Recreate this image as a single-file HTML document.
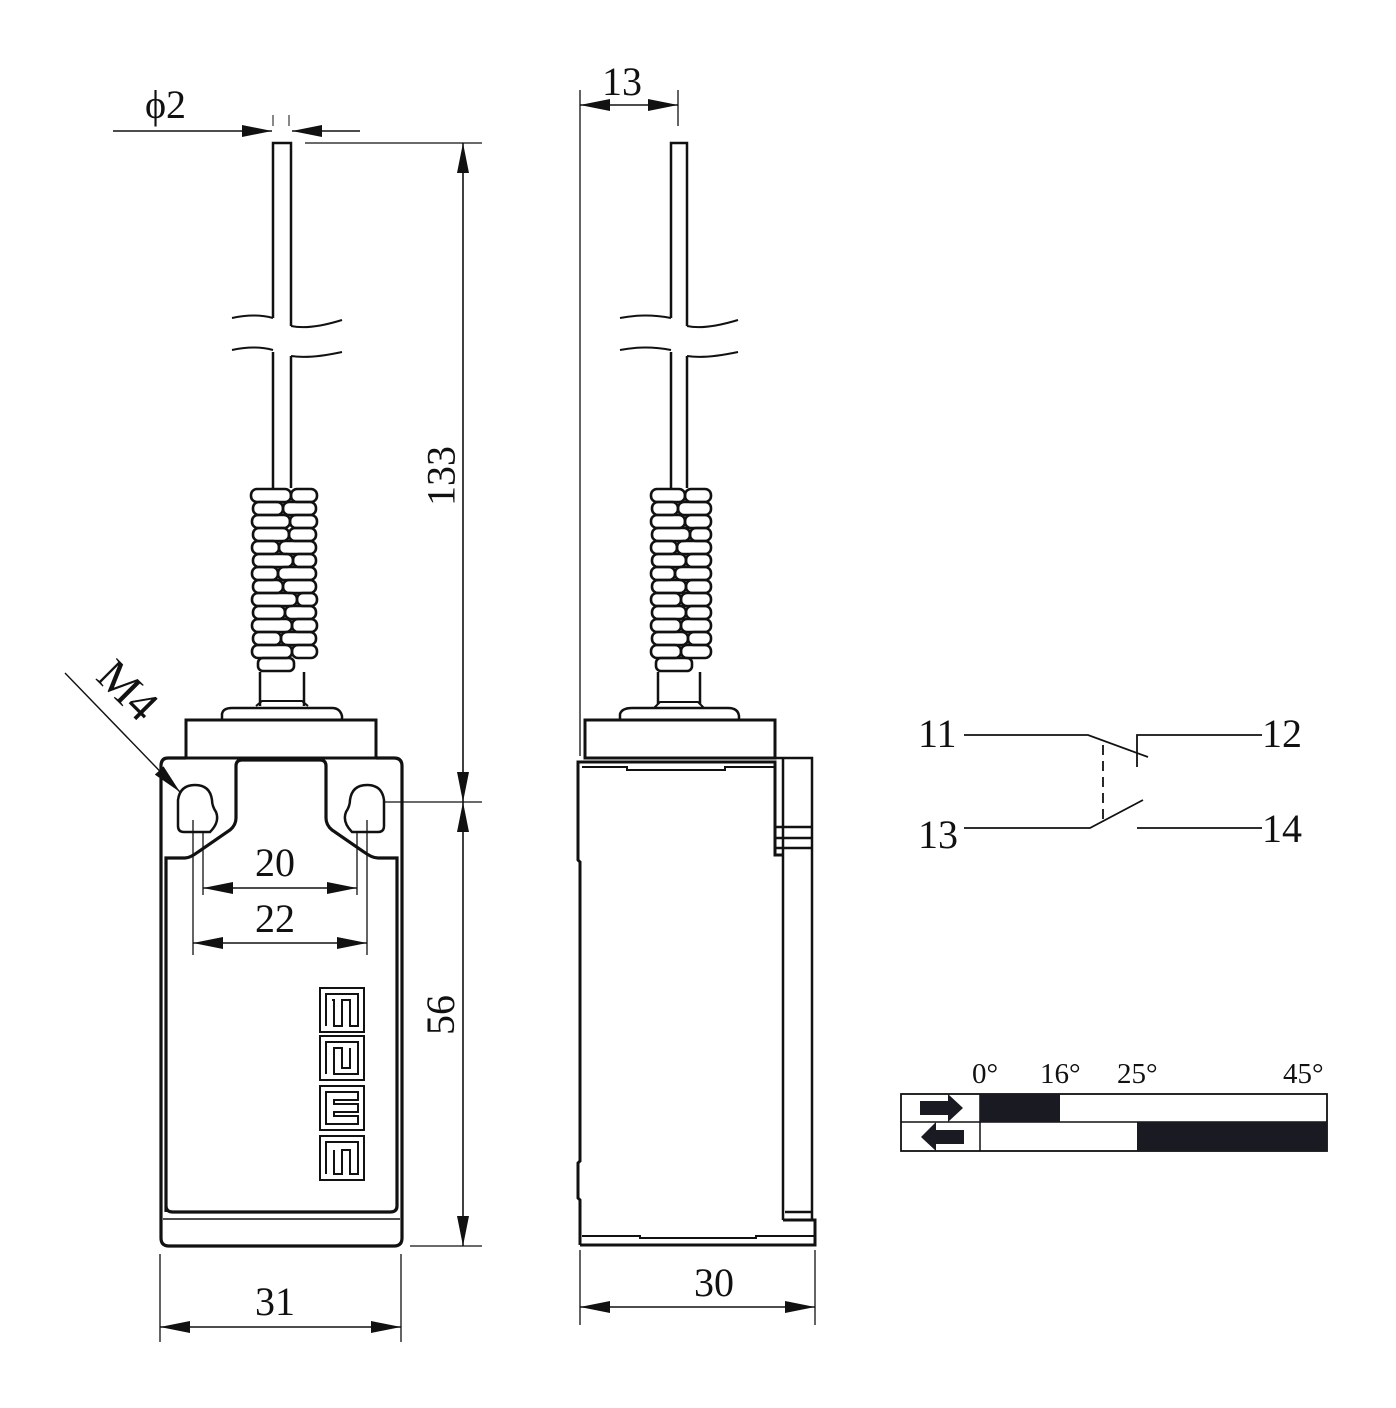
<!DOCTYPE html>
<html><head><meta charset="utf-8"><style>
html,body{margin:0;padding:0;background:#fff;}
svg{display:block;}
text{font-family:"Liberation Serif",serif;fill:#111;}
</style></head><body>
<svg width="1396" height="1408" viewBox="0 0 1396 1408" xmlns="http://www.w3.org/2000/svg">
<defs>
<marker id="b" viewBox="0 0 30 12" refX="30" refY="6" markerWidth="30" markerHeight="12" markerUnits="userSpaceOnUse" orient="auto-start-reverse"><path d="M0,0 L30,6 L0,12 Z" fill="#111"/></marker>
</defs>
<g fill="none" stroke="#111" stroke-width="1.6">
<line x1="113" y1="131" x2="272" y2="131" marker-end="url(#b)"/>
<line x1="360" y1="131" x2="292" y2="131" marker-end="url(#b)"/>
<line x1="273" y1="115" x2="273" y2="126" stroke-width="1"/>
<line x1="289" y1="115" x2="289" y2="126" stroke-width="1"/>
<path d="M273,318 V143 H291 V326" stroke-width="2.5"/>
<path d="M273,352 V488 M291,356 V488" stroke-width="2.5"/>
<path d="M232,318 Q255,313 273,318 M291,326 Q310,330 342,320" stroke-width="2"/>
<path d="M232,350 Q255,345 273,350 M291,356 Q310,359 342,352" stroke-width="2"/>
<g stroke-width="2.6">
<rect x="251" y="489" width="40" height="13" rx="6"/><rect x="291" y="489" width="26" height="13" rx="6"/>
<rect x="253" y="502" width="30" height="13" rx="6"/><rect x="283" y="502" width="33" height="13" rx="6"/>
<rect x="252" y="515" width="38" height="13" rx="6"/><rect x="290" y="515" width="27" height="13" rx="6"/>
<rect x="253" y="528" width="36" height="13" rx="6"/><rect x="289" y="528" width="27" height="13" rx="6"/>
<rect x="252" y="541" width="27" height="13" rx="6"/><rect x="279" y="541" width="37" height="13" rx="6"/>
<rect x="253" y="554" width="40" height="13" rx="6"/><rect x="293" y="554" width="23" height="13" rx="6"/>
<rect x="252" y="567" width="26" height="13" rx="6"/><rect x="278" y="567" width="38" height="13" rx="6"/>
<rect x="253" y="580" width="30" height="13" rx="6"/><rect x="283" y="580" width="33" height="13" rx="6"/>
<rect x="252" y="593" width="45" height="13" rx="6"/><rect x="297" y="593" width="20" height="13" rx="6"/>
<rect x="253" y="606" width="32" height="13" rx="6"/><rect x="285" y="606" width="31" height="13" rx="6"/>
<rect x="252" y="619" width="40" height="13" rx="6"/><rect x="292" y="619" width="25" height="13" rx="6"/>
<rect x="253" y="632" width="28" height="13" rx="6"/><rect x="281" y="632" width="35" height="13" rx="6"/>
<rect x="252" y="645" width="40" height="13" rx="6"/><rect x="292" y="645" width="25" height="13" rx="6"/>
<rect x="258" y="658" width="36" height="13" rx="5"/>
</g>
<path d="M260,672 V706 M304,672 V706" stroke-width="2.5"/>
<path d="M256,706 L262,701 H302 L308,706" stroke-width="2"/>
<path d="M222,720 V714 Q223,708 232,708 H332 Q340,708 342,716 V720" stroke-width="2.5"/>
<rect x="186" y="720" width="190" height="38" stroke-width="3"/>
<path d="M186,758 H168 Q161,758 161,766 V1238 Q161,1246 169,1246 H394 Q402,1246 402,1238 V766 Q402,758 394,758 H376" stroke-width="3.2"/>
<path d="M166,1212 V858 H185 Q190,858 198,852 L230,830 Q236,825 236,818 V766 Q236,760 242,760 H320 Q326,760 326,766 V818 Q326,825 332,830 L364,852 Q372,858 378,858 H397 V1206 Q397,1212 390,1212 H173 Q166,1212 166,1206" stroke-width="3.2"/>
<line x1="163" y1="1219" x2="400" y2="1219" stroke-width="1.5"/>
<path d="M178,800 Q180,785 195,785 Q210,785 212,800 Q212,806 216,812 Q220,822 210,832 H184 Q178,832 178,826 Z" stroke-width="2.5"/>
<path d="M384,800 Q382,785 367,785 Q352,785 350,800 Q350,806 346,812 Q342,822 352,832 H378 Q384,832 384,826 Z" stroke-width="2.5"/>
<path d="M193,820 V955 M203,832 V895 M357,832 V895 M367,820 V955" stroke-width="1.3"/>
<line x1="384" y1="802" x2="482" y2="802" stroke-width="1.3"/>
<line x1="203" y1="888" x2="357" y2="888" marker-start="url(#b)" marker-end="url(#b)"/>
<line x1="193" y1="943" x2="367" y2="943" marker-start="url(#b)" marker-end="url(#b)"/>
<g stroke-width="2">
<rect x="320" y="988" width="44" height="44"/><rect x="320" y="1036" width="44" height="44"/><rect x="320" y="1086" width="44" height="44"/><rect x="320" y="1136" width="44" height="44"/>
<path d="M326,1026 V994 H358 V1026 H350 V1000 H342 V1026 H334 V1000 H332"/>
<path d="M326,1074 V1042 H358 V1074 H334 V1048 H342 V1068 H350 V1048"/>
<path d="M326,1124 V1092 H358 V1100 H334 V1104 H358 V1112 H334 V1116 H358 V1124 Z"/>
<path d="M326,1174 V1142 H358 V1174 H350 V1150 H342 V1174 H334 V1150"/>
</g>
<line x1="65" y1="673" x2="180" y2="792" stroke-width="1.4" marker-end="url(#b)"/>
<line x1="305" y1="143" x2="482" y2="143" stroke-width="1.3"/>
<line x1="463" y1="143" x2="463" y2="802" marker-start="url(#b)" marker-end="url(#b)"/>
<line x1="463" y1="802" x2="463" y2="1246" marker-start="url(#b)" marker-end="url(#b)"/>
<line x1="410" y1="1246" x2="482" y2="1246" stroke-width="1.3"/>
<path d="M160,1254 V1342 M401,1254 V1342" stroke-width="1.3"/>
<line x1="160" y1="1327" x2="401" y2="1327" marker-start="url(#b)" marker-end="url(#b)"/>

<path d="M580,90 V756 M678,90 V126" stroke-width="1.3"/>
<line x1="580" y1="105" x2="678" y2="105" marker-start="url(#b)" marker-end="url(#b)"/>
<path d="M671,318 V143 H687 V326" stroke-width="2.5"/>
<path d="M671,352 V488 M687,356 V488" stroke-width="2.5"/>
<path d="M620,318 Q645,313 671,318 M687,326 Q705,330 738,320" stroke-width="2"/>
<path d="M620,350 Q645,345 671,350 M687,356 Q705,359 738,352" stroke-width="2"/>
<g stroke-width="2.6">
<rect x="651" y="489" width="34" height="13" rx="6"/><rect x="685" y="489" width="26" height="13" rx="6"/>
<rect x="652" y="502" width="26" height="13" rx="6"/><rect x="678" y="502" width="33" height="13" rx="6"/>
<rect x="651" y="515" width="34" height="13" rx="6"/><rect x="685" y="515" width="26" height="13" rx="6"/>
<rect x="652" y="528" width="38" height="13" rx="6"/><rect x="690" y="528" width="21" height="13" rx="6"/>
<rect x="651" y="541" width="26" height="13" rx="6"/><rect x="677" y="541" width="34" height="13" rx="6"/>
<rect x="652" y="554" width="34" height="13" rx="6"/><rect x="686" y="554" width="25" height="13" rx="6"/>
<rect x="651" y="567" width="24" height="13" rx="6"/><rect x="675" y="567" width="36" height="13" rx="6"/>
<rect x="652" y="580" width="34" height="13" rx="6"/><rect x="686" y="580" width="25" height="13" rx="6"/>
<rect x="651" y="593" width="30" height="13" rx="6"/><rect x="681" y="593" width="30" height="13" rx="6"/>
<rect x="652" y="606" width="34" height="13" rx="6"/><rect x="686" y="606" width="25" height="13" rx="6"/>
<rect x="651" y="619" width="30" height="13" rx="6"/><rect x="681" y="619" width="30" height="13" rx="6"/>
<rect x="652" y="632" width="36" height="13" rx="6"/><rect x="688" y="632" width="23" height="13" rx="6"/>
<rect x="651" y="645" width="30" height="13" rx="6"/><rect x="681" y="645" width="30" height="13" rx="6"/>
<rect x="656" y="658" width="36" height="13" rx="5"/>
</g>
<path d="M658,672 V704 M700,672 V704" stroke-width="2.5"/>
<path d="M654,708 L660,702 H698 L704,708" stroke-width="2"/>
<path d="M620,720 V714 Q622,708 632,708 H728 Q738,708 739,716 V720" stroke-width="2.5"/>
<rect x="585" y="720" width="190" height="38" stroke-width="3"/>
<path d="M580,1245 V1200 L578,1198 V1163 L580,1161 V862 L578,860 V762 H775 V855 H783" stroke-width="3"/>
<path d="M580,1245 H815 V1220 H783" stroke-width="3"/>
<path d="M582,767 H627 V770 H725 V767 H775" stroke-width="2"/>
<path d="M582,1236 H640 V1238 H756 V1236 H815" stroke-width="2"/>
<path d="M775,758 H812 V1220 M783,758 V1220 M775,827 H812 M775,838 H812 M775,848 H812 M785,1212 H812" stroke-width="2.5"/>
<path d="M580,1250 V1325 M815,1250 V1325" stroke-width="1.3"/>
<line x1="580" y1="1307" x2="815" y2="1307" marker-start="url(#b)" marker-end="url(#b)"/>

<g stroke-width="1.8">
<path d="M964,735 H1088 L1148,757"/>
<path d="M1137,767 V735 H1262"/>
<path d="M964,828 H1090 L1143,800"/>
<path d="M1137,828 H1262"/>
<line x1="1103" y1="745" x2="1103" y2="820" stroke-dasharray="10,6"/>
</g>

<rect x="901" y="1094" width="426" height="57" stroke-width="1.8"/>
<line x1="901" y1="1122" x2="1327" y2="1122" stroke-width="1.5"/>
<line x1="980" y1="1094" x2="980" y2="1151" stroke-width="1.5"/>
</g>
<rect x="980" y="1094" width="80" height="28" fill="#1a1a22"/>
<rect x="1137" y="1122" width="190" height="29" fill="#1a1a22"/>
<path d="M920,1101 H948 V1094 L963,1108 L948,1122 V1115 H920 Z" fill="#1a1a22"/>
<path d="M964,1130 H936 V1122 L921,1137 L936,1151 V1144 H964 Z" fill="#1a1a22"/>

<g font-size="40">
<text x="145" y="118">ϕ2</text>
<text x="602" y="95">13</text>
<text x="441" y="476" transform="rotate(-90 441 476)" text-anchor="middle" dominant-baseline="central">133</text>
<text x="454" y="1015" transform="rotate(-90 454 1015)" text-anchor="middle">56</text>
<text x="275" y="876" text-anchor="middle">20</text>
<text x="275" y="932" text-anchor="middle">22</text>
<text x="275" y="1315" text-anchor="middle">31</text>
<text x="714" y="1296" text-anchor="middle">30</text>
<text x="128" y="690" font-size="46" transform="rotate(45 128 690)" text-anchor="middle" dominant-baseline="central">M4</text>
<text x="918" y="747">11</text>
<text x="1262" y="747">12</text>
<text x="918" y="848">13</text>
<text x="1262" y="842">14</text>
</g>
<g font-size="29">
<text x="972" y="1083">0°</text>
<text x="1040" y="1083">16°</text>
<text x="1117" y="1083">25°</text>
<text x="1283" y="1083">45°</text>
</g>
</svg>
</body></html>
